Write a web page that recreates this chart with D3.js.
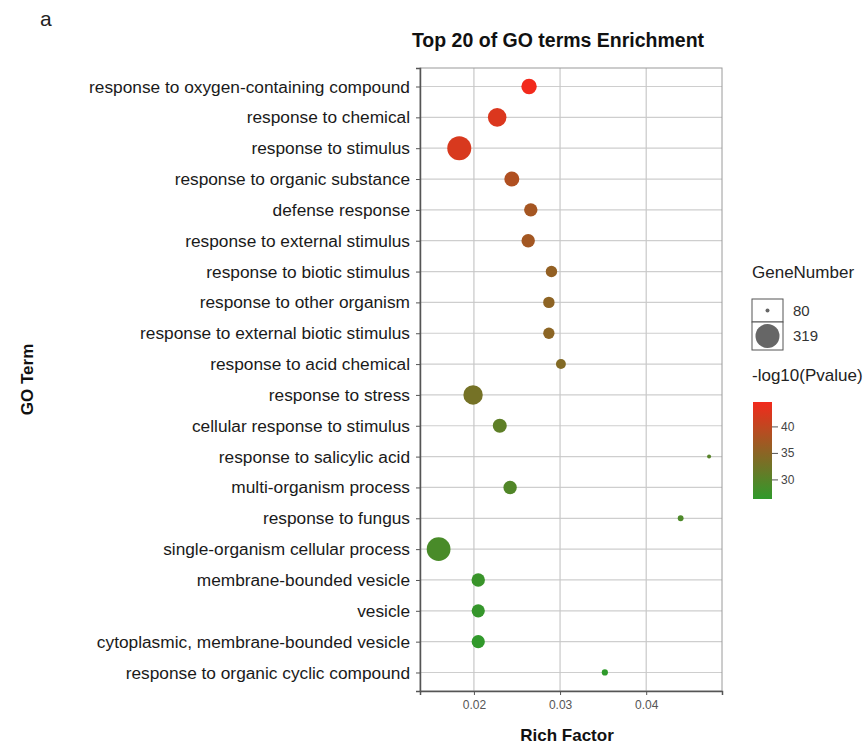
<!DOCTYPE html>
<html>
<head>
<meta charset="utf-8">
<script src="https://cdn.jsdelivr.net/npm/d3@7"></script>
<style>
	body { margin: 0; background: #fff; }
	text { font-family: "Liberation Sans", Arial, sans-serif; }
</style>
</head>
<body>
<div class="chart"></div>
<script>

// GO terms, top to bottom
var terms = [
	'response to oxygen-containing compound',
	'response to chemical',
	'response to stimulus',
	'response to organic substance',
	'defense response',
	'response to external stimulus',
	'response to biotic stimulus',
	'response to other organism',
	'response to external biotic stimulus',
	'response to acid chemical',
	'response to stress',
	'cellular response to stimulus',
	'response to salicylic acid',
	'multi-organism process',
	'response to fungus',
	'single-organism cellular process',
	'membrane-bounded vesicle',
	'vesicle',
	'cytoplasmic, membrane-bounded vesicle',
	'response to organic cyclic compound'
];

var richFactor = [0.0264, 0.0227, 0.0183, 0.0244, 0.0266, 0.0263, 0.0290, 0.0287, 0.0287, 0.0301,
	0.0199, 0.0230, 0.0473, 0.0242, 0.0440, 0.0159, 0.0205, 0.0205, 0.0205, 0.0352];

var geneNumber = [158, 207, 319, 152, 133, 133, 113, 113, 112, 101,
	222, 140, 80, 133, 82, 312, 133, 131, 131, 83];

var logP = [44.7, 42.5, 42.3, 38.5, 37.5, 37.3, 35.8, 35.3, 35.1, 34.2,
	33.0, 30.8, 30.2, 29.6, 29.2, 28.8, 27.3, 27.0, 26.6, 26.4];

var xTicks = [0.02, 0.03, 0.04];
var sizeBreaks = [80, 319];
var colorTicks = [30, 35, 40];

var width = 866, height = 747;
var panel = { left: 420, right: 722, top: 68, bottom: 691 };

var svg = d3.select('.chart').append('svg')
	.attr('width', width)
	.attr('height', height);

var x = d3.scaleLinear()
	.domain([0.01374, 0.0488])
	.range([panel.left, panel.right]);

var y = d3.scalePoint()
	.domain(terms)
	.range([panel.top, panel.bottom])
	.padding(0.6);

// ggplot style area scale: diameter ~ sqrt of rescaled value
var sizeT = d3.scaleLinear().domain([80, 319]).range([0, 1]).clamp(true);
function radius(v) {
	return 2 + 10 * Math.sqrt(sizeT(v));
}

var color = d3.scaleLinear()
	.domain([26.4, 44.7])
	.range(['#2f9a2b', '#f22a1c'])
	.interpolate(d3.interpolateRgb);

var data = terms.map(function(t, i){
	return { term: t, rich: richFactor[i], genes: geneNumber[i], p: logP[i] };
});

// grid
svg.append('g').selectAll('line.h')
	.data(terms).enter().append('line')
	.attr('x1', panel.left).attr('x2', panel.right)
	.attr('y1', function(d){ return y(d); })
	.attr('y2', function(d){ return y(d); })
	.attr('stroke', '#cecece')
	.attr('stroke-width', 1.2);

svg.append('g').selectAll('line.v')
	.data(xTicks).enter().append('line')
	.attr('x1', function(d){ return x(d); })
	.attr('x2', function(d){ return x(d); })
	.attr('y1', panel.top).attr('y2', panel.bottom)
	.attr('stroke', '#c8c8c8')
	.attr('stroke-width', 1.2);

// border
svg.append('rect')
	.attr('x', panel.left).attr('y', panel.top)
	.attr('width', panel.right - panel.left)
	.attr('height', panel.bottom - panel.top)
	.attr('fill', 'none')
	.attr('stroke', '#9a9a9a')
	.attr('stroke-width', 1);

// axes
var xAxis = svg.append('g')
	.attr('transform', 'translate(0,' + panel.bottom + ')')
	.call(d3.axisBottom(x).tickValues(xTicks).tickFormat(d3.format('.2f')).tickSize(4));
xAxis.select('.domain').attr('stroke', '#555').attr('stroke-width', 1.5);
xAxis.selectAll('.tick line').attr('stroke', '#555');
xAxis.selectAll('.tick text')
	.attr('dy', '0.95em')
	.attr('fill', '#555')
	.style('font-size', '12px')
	.style('font-family', '"Liberation Sans", Arial, sans-serif');

var yAxis = svg.append('g')
	.attr('transform', 'translate(' + panel.left + ',0)')
	.call(d3.axisLeft(y).tickSize(4).tickPadding(6));
yAxis.select('.domain').attr('stroke', '#555').attr('stroke-width', 1.5);
yAxis.selectAll('.tick line').attr('stroke', '#555');
yAxis.selectAll('.tick text')
	.attr('fill', '#1a1a1a')
	.style('font-size', '17.3px')
	.style('font-family', '"Liberation Sans", Arial, sans-serif');

// points
svg.append('g').selectAll('circle')
	.data(data).enter().append('circle')
	.attr('cx', function(d){ return x(d.rich); })
	.attr('cy', function(d){ return y(d.term); })
	.attr('r', function(d){ return radius(d.genes); })
	.attr('fill', function(d){ return color(d.p); });

// titles
svg.append('text')
	.attr('x', 40).attr('y', 26)
	.style('font-size', '21px')
	.attr('fill', '#222')
	.text('a');

svg.append('text')
	.attr('x', 558).attr('y', 47)
	.attr('text-anchor', 'middle')
	.style('font-size', '19.5px')
	.style('font-weight', 'bold')
	.attr('fill', '#111')
	.text('Top 20 of GO terms Enrichment');

svg.append('text')
	.attr('x', (panel.left + panel.right) / 2 - 4).attr('y', 741)
	.attr('text-anchor', 'middle')
	.style('font-size', '17px')
	.style('font-weight', 'bold')
	.attr('fill', '#111')
	.text('Rich Factor');

svg.append('text')
	.attr('transform', 'translate(33,' + (panel.top + panel.bottom) / 2 + ') rotate(-90)')
	.attr('text-anchor', 'middle')
	.style('font-size', '17px')
	.style('font-weight', 'bold')
	.attr('fill', '#111')
	.text('GO Term');

// size legend
var lg = svg.append('g');
lg.append('text')
	.attr('x', 752).attr('y', 278)
	.style('font-size', '17px')
	.attr('fill', '#222')
	.text('GeneNumber');

var keyH = [23, 28];
var keyY = 299;
sizeBreaks.forEach(function(b, i){
	lg.append('rect')
		.attr('x', 752).attr('y', keyY)
		.attr('width', 31).attr('height', keyH[i])
		.attr('fill', '#fff')
		.attr('stroke', '#555')
		.attr('stroke-width', 1);
	lg.append('circle')
		.attr('cx', 767.5).attr('cy', keyY + keyH[i] / 2)
		.attr('r', radius(b))
		.attr('fill', '#666');
	lg.append('text')
		.attr('x', 793).attr('y', keyY + keyH[i] / 2 + 5)
		.style('font-size', '15px')
		.attr('fill', '#333')
		.text(b);
	keyY += keyH[i];
});

// colour bar
lg.append('text')
	.attr('x', 752).attr('y', 381)
	.style('font-size', '17px')
	.attr('fill', '#222')
	.text('-log10(Pvalue)');

var barTop = 402, barBot = 499;
var cb = d3.scaleLinear().domain(color.domain()).range([barBot, barTop]);

var grad = svg.append('defs').append('linearGradient')
	.attr('id', 'pgrad')
	.attr('x1', 0).attr('y1', 1).attr('x2', 0).attr('y2', 0);
d3.range(0, 1.01, 0.1).forEach(function(t){
	var v = color.domain()[0] + t * (color.domain()[1] - color.domain()[0]);
	grad.append('stop').attr('offset', t).attr('stop-color', color(v));
});

lg.append('rect')
	.attr('x', 753).attr('y', barTop)
	.attr('width', 19).attr('height', barBot - barTop)
	.attr('fill', 'url(#pgrad)');

colorTicks.forEach(function(t){
	lg.append('line')
		.attr('x1', 772).attr('x2', 778)
		.attr('y1', cb(t)).attr('y2', cb(t))
		.attr('stroke', '#555');
	lg.append('text')
		.attr('x', 781).attr('y', cb(t) + 4)
		.style('font-size', '12px')
		.attr('fill', '#444')
		.text(t);
});

</script>
</body>
</html>
